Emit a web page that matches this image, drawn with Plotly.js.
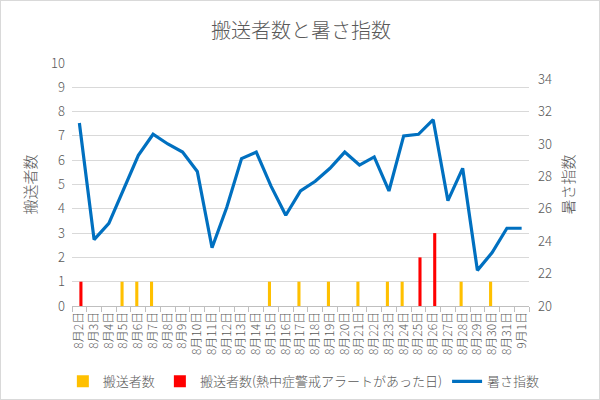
<!DOCTYPE html>
<html>
<head>
<meta charset="utf-8">
<script src="https://cdn.plot.ly/plotly-3.0.1.min.js"></script>
<style>
  html, body { margin: 0; padding: 0; background: #fff; }
  #chart { width: 600px; height: 400px; box-sizing: border-box; border: 1px solid #d9d9d9; }
</style>
</head>
<body>
<div id="chart"></div>
<script>
// 日付ラベル
const days = [
    '8月2日', '8月3日', '8月4日', '8月5日', '8月6日', '8月7日', '8月8日', '8月9日',
    '8月10日', '8月11日', '8月12日', '8月13日', '8月14日', '8月15日', '8月16日',
    '8月17日', '8月18日', '8月19日', '8月20日', '8月21日', '8月22日', '8月23日',
    '8月24日', '8月25日', '8月26日', '8月27日', '8月28日', '8月29日', '8月30日',
    '8月31日', '9月1日'
];

// 搬送者数（通常日）
const transported = [0, 0, 0, 1, 1, 1, 0, 0, 0, 0, 0, 0, 0, 1, 0, 1, 0, 1, 0, 1, 0, 1, 1, 0, 0, 0, 1, 0, 1, 0, 0];

// 搬送者数（熱中症警戒アラートがあった日）
const transportedAlert = [1, 0, 0, 0, 0, 0, 0, 0, 0, 0, 0, 0, 0, 0, 0, 0, 0, 0, 0, 0, 0, 0, 0, 2, 3, 0, 0, 0, 0, 0, 0];

// 暑さ指数
const wbgt = [
    31.3, 24.1, 25.1, 27.2, 29.3, 30.6, 30.0, 29.5, 28.3, 23.6, 26.1, 29.1, 29.5,
    27.4, 25.6, 27.1, 27.7, 28.5, 29.5, 28.7, 29.2, 27.1, 30.5, 30.6, 31.5, 26.5,
    28.5, 22.2, 23.3, 24.8, 24.8
];

const fontFamily = '"Noto Sans CJK JP", "Noto Sans", sans-serif';
const textGray = '#595959';

const traces = [
    {
        x: days, y: transported, name: '搬送者数', type: 'bar',
        marker: { color: '#FFC000' }
    },
    {
        x: days, y: transportedAlert, name: '搬送者数(熱中症警戒アラートがあった日)', type: 'bar',
        marker: { color: '#FF0000' }
    },
    {
        x: days, y: wbgt, name: '暑さ指数', type: 'scatter', mode: 'lines',
        yaxis: 'y2',
        line: { color: '#0070C0', width: 3.2 }
    }
];

const layout = {
    width: 600,
    height: 400,
    margin: { l: 71, r: 72, t: 62, b: 95, autoexpand: false },
    paper_bgcolor: 'rgba(0,0,0,0)',
    plot_bgcolor: '#fff',
    font: { family: fontFamily, color: textGray, size: 12, weight: 300 },
    title: {
        text: '搬送者数と暑さ指数',
        font: { size: 20, color: textGray, family: fontFamily, weight: 300 },
        x: 0.5, xanchor: 'center', y: 0.925, yanchor: 'middle'
    },
    barmode: 'group',
    bargap: 0.58,
    bargroupgap: 0,
    showlegend: true,
    legend: {
        orientation: 'h',
        x: -0.02, xanchor: 'left',
        y: -0.31, yanchor: 'middle',
        font: { size: 13, color: textGray },
        itemwidth: 30,
        traceorder: 'normal'
    },
    xaxis: {
        type: 'category',
        tickangle: -90,
        tickfont: { size: 12, color: textGray },
        showline: true,
        linecolor: '#bfbfbf',
        linewidth: 1,
        ticks: 'outside',
        tickson: 'boundaries',
        ticklen: 5,
        tickcolor: '#bfbfbf',
        showgrid: false,
        fixedrange: true
    },
    yaxis: {
        range: [0, 10],
        dtick: 1,
        tick0: 0,
        showgrid: true,
        gridcolor: '#d9d9d9',
        gridwidth: 1,
        zeroline: false,
        showline: false,
        tickfont: { size: 13, color: textGray },
        ticklabelstandoff: 6,
        title: { text: '搬送者数', font: { size: 15, color: textGray }, standoff: 10 }
    },
    yaxis2: {
        overlaying: 'y',
        side: 'right',
        range: [20, 35],
        tickvals: [20, 22, 24, 26, 28, 30, 32, 34],
        showgrid: false,
        zeroline: false,
        showline: false,
        tickfont: { size: 13, color: textGray },
        ticklabelstandoff: 8,
        title: { text: '暑さ指数', font: { size: 15, color: textGray }, standoff: 12 }
    }
};

Plotly.newPlot('chart', traces, layout, { staticPlot: true, displayModeBar: false });
</script>
</body>
</html>
